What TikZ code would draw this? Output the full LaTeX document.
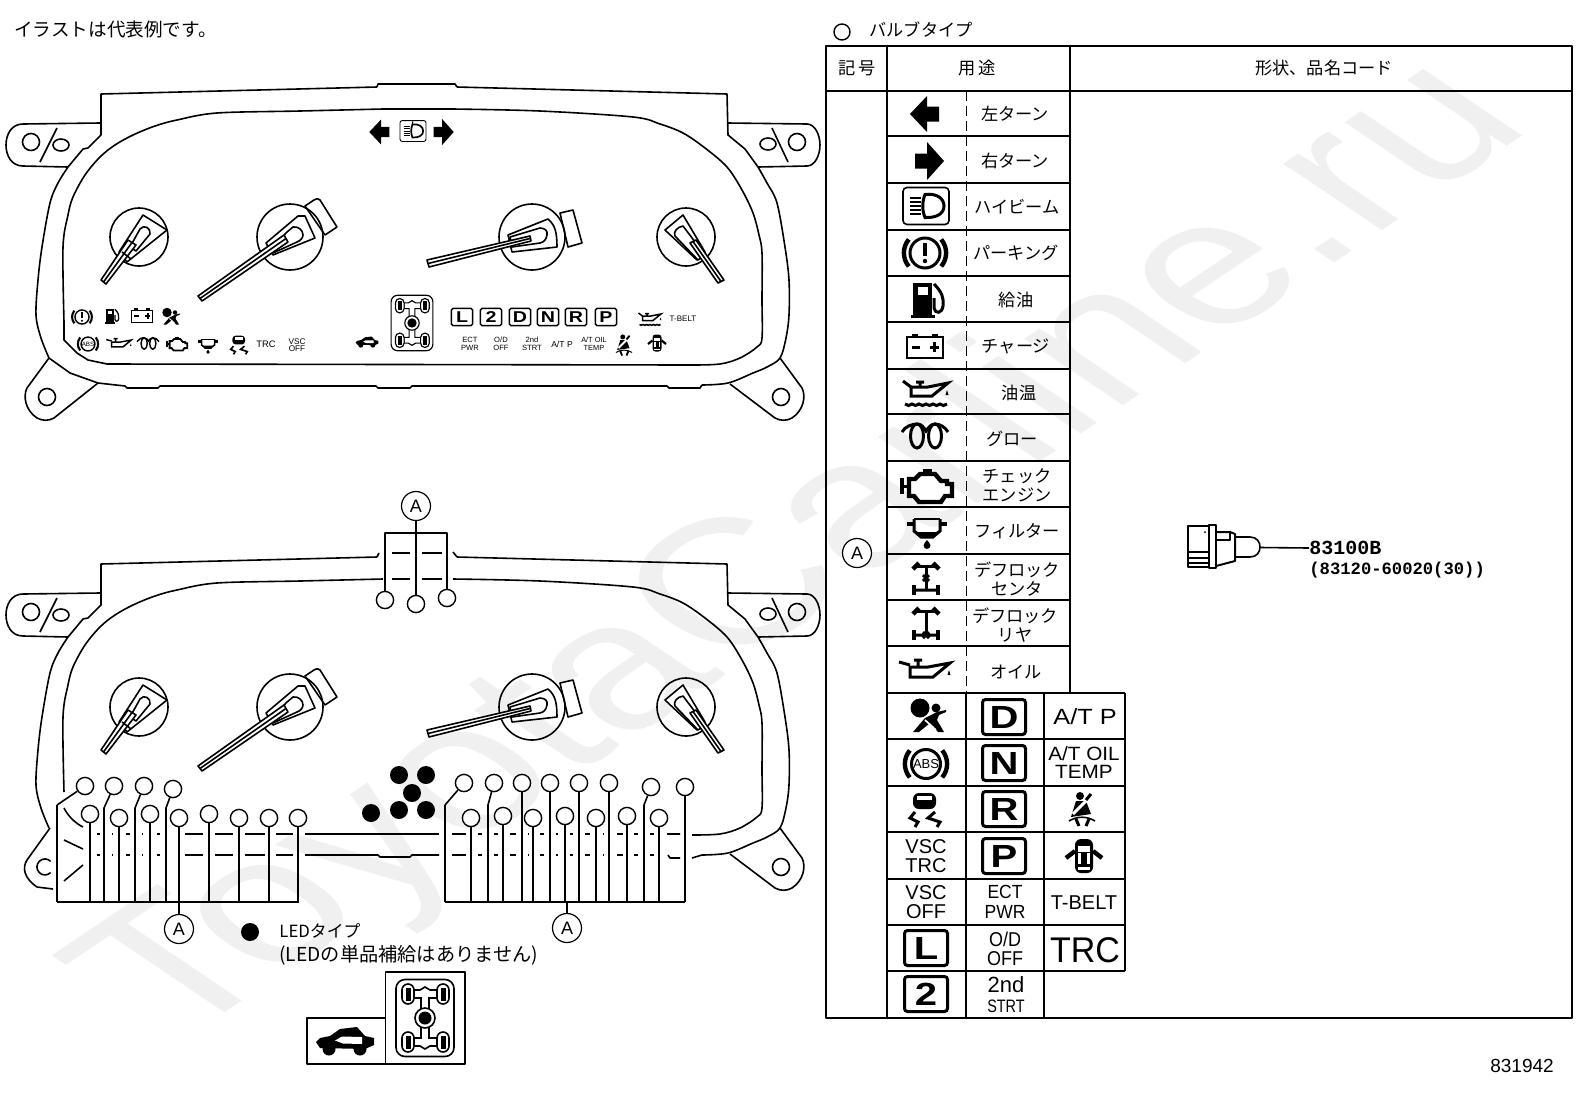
\documentclass[tikz,border=0pt]{standalone}
\usepackage{fontspec}
\setmainfont{Liberation Sans}
\newfontfamily\cjk{Noto Sans CJK JP}
\newfontfamily\monof{Liberation Mono}
\newcommand\fs[2]{\fontsize{#1}{#2}\selectfont}
\tikzset{
 base/.style={line width=0.8pt,line join=round},
 lbl/.style={inner sep=0pt,align=center},
 jp/.style={inner sep=0pt,align=center,font=\cjk\fs{8.6}{9.4}},
 bulbn/.style={circle,draw,line width=0.7pt,fill=white,minimum size=8.6pt,inner sep=0pt},
 ledn/.style={circle,fill=black,minimum size=9pt,inner sep=0pt},
 refn/.style={circle,draw,line width=0.6pt,fill=white,minimum size=14.5pt,inner sep=0pt,font=\fs{9}{9}},
 il/.style={line width=\icS*0.8pt},
 ith/.style={line width=\icS*1.5pt},
 ithk/.style={line width=\icS*2.2pt},
}
% icon wrapper
\newcommand\ic[4]{\begin{scope}[shift={(#2,#3)},scale=#4]\pgfmathsetmacro\icS{#4}#1\end{scope}}
\newcommand\iconLeft{\fill (-17,0)--(0,-18)--(0,-7.5)--(12,-7.5)--(12,7.5)--(0,7.5)--(0,18)--cycle;}
\newcommand\iconRight{\fill (17,0)--(0,-19)--(0,-7.5)--(-12,-7.5)--(-12,7.5)--(0,7.5)--(0,19)--cycle;}
\newcommand\iconHB{\draw[il,rounded corners=\icS*2pt] (-23,-18.5) rectangle (23,18.5);
 \draw[ith] (-1,-11.5) .. controls (10,-13) and (18,-8) .. (18,0) .. controls (18,8) and (10,12) .. (-1,11.5) .. controls (-4,4) and (-4,-4) .. cycle;
 \foreach \v in {-8,-4,0,4,8}{\draw[il] (-16,\v)--(-5,\v);}}
\newcommand\iconPark{\draw[ith] (0,0) circle[radius=15];
 \draw[ithk] (-16.2,-13.6) arc[start angle=220,end angle=140,radius=21];
 \draw[ithk] (16.2,-13.6) arc[start angle=-40,end angle=40,radius=21];
 \fill (-2,-10) rectangle (2,3);\fill (0,8) circle[radius=2.2];}
\newcommand\iconFuel{\fill (-14,-17) rectangle (5,15);\fill[white] (-9,-13) rectangle (1,-5);
 \fill (-16,15) rectangle (8,18);
 \draw[ith] (7,-16) .. controls (15,-8) and (17,-2) .. (16,6) .. controls (15,14) and (8,14) .. (7,8) -- (7,-2);}
\newcommand\iconBatt{\draw[il] (-18,-10) rectangle (18,11);\fill (-13,-13) rectangle (-7,-10);\fill (7,-13) rectangle (13,-10);
 \draw[ith] (-13,0)--(-5,0) (5,0)--(14,0) (9.5,-5)--(9.5,5);}
\newcommand\iconOilTemp{\draw[ith] (-15,-6)--(2,-6)--(22,-10)--(6,3)--(-15,3)--cycle;
 \draw[ith] (-6,-11)--(-6,-6) (-10,-11)--(-2,-11) (-23,-12)--(-15,-6);
 \fill (21,-3)--(19.5,2)--(22.5,2)--cycle;
 \draw[ith] (-21,11) .. controls (-19,13) and (-16,13) .. (-14,11) .. controls (-12,13) and (-9,13) .. (-7,11) .. controls (-5,13) and (-2,13) .. (0,11) .. controls (2,13) and (5,13) .. (7,11) .. controls (9,13) and (12,13) .. (14,11) .. controls (16,13) and (19,13) .. (21,11);}
\newcommand\iconOil{\draw[ith] (-15,-2)--(3,-2)--(25,-6)--(8,8)--(-15,8)--cycle;
 \draw[ith] (-7,-9)--(-7,-2) (-11,-9)--(-3,-9) (-26,-7)--(-15,-4);
 \fill (24,1)--(22.5,6)--(25.5,6)--cycle;}
\newcommand\iconGlow{\draw[ith] (-8,-1) ellipse[x radius=6.5,y radius=12];\draw[ith] (10,-1) ellipse[x radius=6.5,y radius=12];
 \draw[ith] (-23,-5) .. controls (-20,-11) and (-12,-13) .. (-8,-13) .. controls (-3,-13) and (-1,-9) .. (1,-6) .. controls (3,-9) and (6,-13) .. (10,-13) .. controls (15,-13) and (20,-10) .. (23,-5);}
\newcommand\iconEngine{\draw[ithk] (-18,-7)--(-12,-7)--(-7,-12)--(8,-12)--(14,-5)--(20,-5)--(20,-2)--(25,-2)--(25,10)--(18,10)--(14,16)--(-8,16)--(-13,10)--(-18,10)--cycle;
 \draw[ithk] (-4,-15)--(5,-15) (-25,-8)--(-25,8);\draw[ith] (1,-15)--(1,-12) (-25,0)--(-18,0);}
\newcommand\iconFilter{\draw[il] (-13,-14)--(13,-14);\draw[ith] (-13,-14)--(-13,-2)--(-6,4)--(6,4)--(13,-2)--(13,-14);
 \draw[ithk] (-20,-9)--(-13,-9) (13,-9)--(20,-9);\fill (-13,-3)--(-6,4)--(6,4)--(13,-3)--(9,-1)--(-9,-1)--cycle;
 \fill (0,7) .. controls (-1,9) and (-3.5,10) .. (-3.5,12.5) .. controls (-3.5,17) and (3.5,17) .. (3.5,12.5) .. controls (3.5,10) and (1,9) .. (0,7) -- cycle;}
\newcommand\iconDiffTop{\draw[ith] (-9,-12)--(9,-12) (0,-12)--(0,12);\draw[ithk] (-13,-9)--(-7,-15) (7,-15)--(13,-9);}
\newcommand\iconDiffC{\iconDiffTop\draw[ith] (-3,-3)--(3,3) (-3,3)--(3,-3) (-11,12)--(11,12);\draw[ithk] (-12,7)--(-12,17) (12,7)--(12,17);}
\newcommand\iconDiffR{\iconDiffTop\draw[ith] (-3,9)--(3,15) (-3,15)--(3,9) (-11,12)--(11,12);\draw[ithk] (-12,7)--(-12,17) (12,7)--(12,17);}
\newcommand\iconAirbag{\fill (-8,-9) circle[radius=9.5];\fill (8,-9) circle[radius=4.5];
 \fill (-3,1)--(9,-5)--(18,-7)--(18,-5)--(11,-2)--(9,3)--(16,15)--(10,15)--(2,6)--(-9,15)--(-15,15)--cycle;
 \draw[white,il] (-3,3)--(8,13);}
\newcommand\iconABS[1]{\draw[ith] (0,0) circle[radius=14.5];
 \draw[ithk] (-16.2,-13.6) arc[start angle=220,end angle=140,radius=21];
 \draw[ithk] (16.2,-13.6) arc[start angle=-40,end angle=40,radius=21];
 \node[transform shape,lbl,font=\fs{6.5}{6.5}] (#1) at (0,0) {ABS};}
\newcommand\iconSkid{\fill[rounded corners=\icS*3pt] (-12,-17) rectangle (11,-1);\fill[white] (-8,-14) rectangle (7,-10);
 \draw[ith] (-10,2)--(-15,8)--(-7,12)--(-10,17);\draw[ith] (10,2)--(3,8)--(15,12)--(12,17);}
\newcommand\iconBelt{\fill (-2,-13) circle[radius=4];\fill (-6,-8)--(4,-8)--(9,5)--(-11,8)--cycle;
 \draw[white,ith] (5,-9)--(-9,5);\draw[ith] (9,-15)--(4,-9);
 \draw[il] (-13,12) .. controls (-5,7) and (5,7) .. (13,12);\draw[ith] (-6,10)--(-3,17) (7,10)--(4,17);}
\newcommand\iconDoor{\fill[rounded corners=\icS*3pt] (-9,-17) rectangle (9,17);\fill[white] (-6,-10) rectangle (6,-4);\fill[white] (-6,-3) rectangle (-3,8);\fill[white] (3,-3) rectangle (6,8);\fill[white] (-6,11) rectangle (6,14);
 \draw[ithk] (-9,-5)--(-18,2) (9,-5)--(18,2);}
\newcommand\iconCar{\fill (-29,1)--(-25,-3)--(-15,-5)--(-5,-12)--(12,-14)--(20,-5)--(29,-3)--(29,4)--(20,8)--(-25,7)--cycle;
 \fill (-16,8) circle[radius=6.5];\fill (15,8) circle[radius=6.5];
 \fill[white] (-10,-0.5)--(-3,-4.5)--(17,-4)--(17,3)--(-2,2.5)--cycle;}
\newcommand\iconFWD{\draw[il,rounded corners=\icS*4.5pt] (-29,-38.5) rectangle (29,38.5);
 \draw[il,fill=white] (-11,-28)--(-5,-28)--(0,-31)--(5,-28)--(12,-28)--(12,-20)--(4,-20)--(4,20)--(12,20)--(12,28)--(5,28)--(0,31)--(-5,28)--(-11,28)--(-11,20)--(-4,20)--(-4,-20)--(-11,-20)--cycle;
 \foreach \a/\b in {-17/-24,18/-24,-17/24,18/24}{
  \draw[il,fill=white,rounded corners=\icS*3pt] (\a-6,\b-10) rectangle (\a+6,\b+10);
  \fill (\a-2.5,\b-6.5) rectangle (\a+2.5,\b+6.5);}
 \draw[il,fill=white] (0,0) circle[radius=10];\fill (0,0) circle[radius=6.5];}
\newcommand\lampbox[5]{\begin{scope}[shift={(#2,#3)},scale=#4]\pgfmathsetmacro\icS{#4}
 \draw[ith,rounded corners=\icS*1.5pt] (-21.5,-17.5) rectangle (21.5,17.5);
 \node[transform shape,lbl,xscale=1.25,font=\bfseries\fs{16}{16}] (#1) at (0,0) {#5};\end{scope}}
% cluster parts
\newcommand\outerLeft{\draw[base] plot[smooth,tension=.55] coordinates {(49,358) (41,338) (36,315) (38,280) (42,247) (50,203) (58,183) (68,167)} -- (83,149) -- (88,148) -- (101,135) -- (101,94) -- (377,87);}
\newcommand\outerRight{\draw[base] (457,87) -- (727,94) -- (728,135) -- (745,149) -- (758,167) plot[smooth,tension=.55] coordinates {(758,167) (767,183) (777,203) (785,247) (789,280) (789,315) (786,338) (780,358) (767,367) (753,373) (728,383) (702,385)};}
\newcommand\innerLeft{\draw[base] plot[smooth,tension=.55] coordinates {(64,322) (63,247) (68,215) (73,197) (85,175) (100,157) (115,145) (133,135) (155,126) (177,120) (217,113) (300,111) (383,109)};}
\newcommand\innerRight{\draw[base] plot[smooth,tension=.55] coordinates {(453,109) (540,111) (633,117) (660,124) (683,133) (705,148) (727,167) (742,190) (753,213) (759,235) (762,253) (762,300) (762,338) (757,347) (740,358) (720,364) (692,365)};}
\newcommand\earsCommon{
 \draw[base] (100,123) -- (23,124) .. controls (11,124) and (6,135) .. (6,145) .. controls (6,155) and (11,166) .. (23,166) -- (68,167);
 \draw[base] (31,142) circle[radius=8.5];\draw[base] (61,145) ellipse[x radius=8,y radius=6];\draw[base] (57,128)--(40,162);
 \draw[base] (728,123) -- (807,124) .. controls (815,124) and (820,135) .. (820,145) .. controls (820,155) and (815,166) .. (807,166) -- (758,167);
 \draw[base] (797,142) circle[radius=8.5];\draw[base] (768,144) ellipse[x radius=8,y radius=6];\draw[base] (772,128)--(788,162);
 \draw[base] (780,358) -- (802,388) .. controls (806,396) and (804,410) .. (792,418) .. controls (787,421) and (780,421) .. (775,418) -- (730,384);
 \draw[base] (781,397) circle[radius=8.5];}
\newcommand\gauges{
 \draw[base] (139,237) circle[radius=29];
 \draw[base,fill=white] (143,215)--(167,230)--(127,262)--(119,252)--cycle;
 \draw[base,fill=white] (130,247)--(140,229) .. controls (144,224) and (151,228) .. (150,234) -- (136,251)--cycle;
 \draw[base,fill=white] (101,280)--(128,240)--(136,245)--(106,284)--cycle;
 \draw[base] (103.5,282)--(132,242.5) (122,252)--(131,259);
 \draw[base,fill=white] (305,206)--(314,200) .. controls (317,198) and (319,199) .. (320,200) -- (337,227)--(325,235)--cycle;
 \draw[base] (290,237) circle[radius=33];
 \draw[base,fill=white] (298,216)--(305,216)--(315,238)--(273,255)--(266,243)--cycle;
 \draw[base,fill=white] (270,250)--(287,232)--(293,227) .. controls (298,226) and (303,230) .. (303,235) .. controls (303,238) and (300,241) .. (297,242) -- (273,253)--cycle;
 \draw[base,fill=white] (198,296)--(202,301)--(288,242)--(284,235)--cycle;
 \draw[base] (200,298.5)--(286,238.5);
 \draw[base,fill=white] (560,213)--(573,210)--(582,243)--(568,247)--cycle;
 \draw[base] (532,237) circle[radius=33];
 \draw[base,fill=white] (548,219) .. controls (555,225) and (557,232) .. (557,247) -- (512,252)--(508,235)--cycle;
 \draw[base,fill=white] (510,237)--(540,228) .. controls (545,228) and (548,231) .. (547,235) .. controls (546,240) and (544,242) .. (540,243) -- (512,247)--cycle;
 \draw[base,fill=white] (427,260)--(429,267)--(531,241)--(530,236)--cycle;
 \draw[base] (428,263.5)--(530,238.5);
 \draw[base] (686,237) circle[radius=29];
 \draw[base,fill=white] (665,230)--(683,215)--(705,252)--(697,260)--cycle;
 \draw[base,fill=white] (675,236) .. controls (673,232) and (677,227) .. (683,226) -- (705,255)--(698,260)--cycle;
 \draw[base,fill=white] (718,283)--(690,243)--(696,240)--(724,280)--cycle;
 \draw[base] (721,281.5)--(693,241.5);}
\begin{document}
\begin{tikzpicture}[x=0.5pt,y=-0.5pt]
\useasboundingbox (0,0) rectangle (1592,1099);
% watermark
\node[transform shape,yscale=.676,rotate=45,anchor=base west,inner sep=0pt,text=black!6,font=\fs{132}{132}] (wm) at (176,1046) {ToyotaCarline.ru};
\node[anchor=west,jp,font=\cjk\fs{9.3}{10}] (tillus) at (14,29) {イラストは代表例です。};
% ---------- upper cluster
\outerLeft \outerRight \innerLeft \innerRight \earsCommon \gauges
\draw[base] (377,87)--(378,84)--(455,84)--(457,87);
\draw[base] (383,109)--(453,109);
\draw[base] (64,322)--(64,340)--(77,353)--(88,360)--(107,364)--(692,365);
\draw[base] (702,385)--(700,388)--(669,388)--(667,386)--(412,386)--(410,388)--(378,388)--(376,386)--(160,386)--(158,388)--(127,388)--(125,386)--(98,383)--(70,373)--(49,358);
\draw[base] (49,358) -- (27,388) .. controls (23,396) and (25,410) .. (37,418) .. controls (42,421) and (49,421) .. (54,418) -- (98,383);
\draw[base] (47,397) circle[radius=8.5];
% upper icons
\ic{\iconLeft}{381}{132}{.69}\ic{\iconRight}{442}{132}{.69}\ic{\iconHB}{413}{131}{.565}
\ic{\iconPark}{82}{317}{.47}\ic{\iconFuel}{112}{316}{.42}\ic{\iconBatt}{142}{316}{.6}\ic{\iconAirbag}{171}{317}{.5}
\ic{\iconABS{absU}}{88}{344}{.48}\ic{\iconOil}{119}{343}{.49}\ic{\iconGlow}{148}{344}{.48}\ic{\iconEngine}{177}{344}{.41}\ic{\iconFilter}{208}{346}{.5}\ic{\iconSkid}{239}{345}{.55}
\node[lbl,font=\fs{4.7}{4.7}] (uTRC) at (266,344) {TRC};
\node[lbl,font=\fs{4.1}{3.8}] (uVSC) at (297,345) {VSC\\OFF};
\ic{\iconCar}{367}{342}{.39}\ic{\iconFWD}{412}{323}{.72}
\lampbox{uL}{462}{317}{.49}{L}\lampbox{u2}{491}{317}{.49}{2}\lampbox{uD}{520}{317}{.49}{D}\lampbox{uN}{548}{317}{.49}{N}\lampbox{uR}{576}{317}{.49}{R}\lampbox{uP}{606}{317}{.49}{P}
\ic{\iconOilTemp}{650}{319}{.5}
\node[lbl,font=\fs{4}{4}] (uTB) at (683,319) {T-BELT};
\node[lbl,font=\fs{3.8}{3.8}] (uECT) at (470,344) {ECT\\PWR};
\node[lbl,font=\fs{3.8}{3.8}] (uOD) at (501,344) {O/D\\OFF};
\node[lbl,font=\fs{3.8}{3.8}] (u2nd) at (532,344) {2nd\\STRT};
\node[lbl,font=\fs{4.3}{4.3}] (uATP) at (562,344) {A/T P};
\node[lbl,font=\fs{3.7}{3.7}] (uATO) at (594,344) {A/T OIL\\TEMP};
\ic{\iconBelt}{624}{345}{.62}\ic{\iconDoor}{657}{343}{.5}
% ---------- lower cluster
\begin{scope}[shift={(0,470)}]
\outerLeft \outerRight \innerLeft \innerRight \earsCommon \gauges
\end{scope}
\draw[base] (377,557)--(379,553) (453,552)--(457,557);
% top box
\node[refn] (Atop) at (416,506) {A};
\node[bulbn] (t1) at (385,600) {};\node[bulbn] (t2) at (416,604) {};\node[bulbn] (t3) at (447,598) {};
\coordinate (tl) at (385,533);\coordinate (tr) at (447,533);
\draw[base] (t1)--(tl)--(tr)--(t3);
\draw[base] (Atop)--(t2);
\foreach \a/\b in {392/410,422/442}{\draw[base] (\a,553)--(\b,553) (\a,579)--(\b,579);}
% bottom lines
\draw[base] (305,834)--(439,834);
\draw[base] (305,855)--(378,855)--(380,857)--(410,857)--(412,855)--(439,855);
% left cut-away box
\coordinate (lbTL) at (57,805);\coordinate (lbBL) at (57,902);\coordinate (lbBR) at (299,902);
\draw[base] (lbBL)--(lbTL) (lbBL)--(lbBR);
\foreach \n/\x/\y/\mx in {1/114/786/104,2/144/786/135,3/173/789/166}{
 \node[bulbn] (lt\n) at (\x,\y) {};
 \coordinate (ltm\n) at (\mx,808);\coordinate (lte\n) at (\mx,902);
 \draw[base] (lt\n)--(ltm\n)--(lte\n);}
\node[bulbn] (lt0) at (85,786) {};\draw[base] (lt0)--(lbTL);
\foreach \n/\x/\y in {1/90/814,2/119/818,3/150/814,5/209/814,6/239/818,7/269/818,8/298/818}{
 \node[bulbn] (ls\n) at (\x,\y) {};
 \coordinate (lse\n) at (\x,902);
 \draw[base] (ls\n)--(lse\n);}
\node[refn] (Aleft) at (179,929) {A};\node[bulbn] (ls4) at (179,818) {};
\draw[base] (ls4)--(Aleft);
\foreach \a/\b in {97/100,112/113,126/130,142/143,157/160,185/203,215/233,245/265,276/293}{\draw[base] (\a,834)--(\b,834) (\a,855)--(\b,855);}
\draw[base] (64,808) .. controls (68,816) and (75,823) .. (83,827);
\draw[base] (64,840)--(83,849) (64,881)--(83,865);
\draw[base] (50,828) -- (27,860) .. controls (22,868) and (24,878) .. (37,887) -- (53,889);
\draw[base] (50.6,872.6) arc[start angle=45,end angle=315,radius=8];
% right cut-away box
\coordinate (rbTL) at (445,805);\coordinate (rbBL) at (445,902);\coordinate (rbBR) at (685,902);
\draw[base] (rbBL)--(rbTL) (rbBL)--(rbBR);
\node[bulbn] (rt0) at (464,783) {};\draw[base] (rt0)--(rbTL);
\foreach \n/\x/\y/\mx in {1/494/783/488,6/651/787/644}{
 \node[bulbn] (rt\n) at (\x,\y) {};
 \coordinate (rtm\n) at (\mx,805);\coordinate (rte\n) at (\mx,902);
 \draw[base] (rt\n)--(rtm\n)--(rte\n);}
\foreach \n/\x/\y in {2/522/783,3/550/783,4/579/783,5/609/783,7/685/787}{
 \node[bulbn] (rt\n) at (\x,\y) {};
 \coordinate (rte\n) at (\x,902);
 \draw[base] (rt\n)--(rte\n);}
\foreach \n/\x/\y in {1/471/818,2/503/816,3/533/818,4/565/816,5/596/818,6/627/816,7/659/818}{
 \node[bulbn] (rs\n) at (\x,\y) {};
 \coordinate (rse\n) at (\x,902);
 \draw[base] (rs\n)--(rse\n);}
\node[refn] (Aright) at (567,928) {A};\coordinate (rsA) at (567,902);\draw[base] (rsA)--(Aright);
\foreach \a/\b in {452/466,478/482,494/498,510/516,528/529,540/544,556/558,570/573,585/590,603/604,617/623,634/638,650/654}{\draw[base] (\a,834)--(\b,834) (\a,855)--(\b,855);}
\draw[base] (667,834)--(680,834) (668,855)--(670,858)--(680,858) (692,858)--(702,855);
% LEDs
\foreach \n/\x/\y in {1/399/775,2/426/775,3/412/793,4/371/813,5/399/810,6/426/810}{\node[ledn] (led\n) at (\x,\y) {};}
\node[ledn] (ledkey) at (250,932) {};
\node[anchor=west,jp,font=\cjk\fs{8.4}{9}] (ledA) at (279,931) {LEDタイプ};
\node[anchor=west,jp,font=\cjk\fs{9.6}{10}] (ledB) at (279,955) {(LEDの単品補給はありません)};
% legend boxes
\draw[base] (307,1018) rectangle (385.5,1064);\draw[base] (385.5,972) rectangle (465,1064);
\ic{\iconCar}{345}{1041}{1}\ic{\iconFWD}{425}{1018}{1}
% ---------- table
\node[bulbn,minimum size=8pt,fill=none] (keyb) at (842,32) {};
\node[anchor=west,jp] (keybt) at (869,30) {バルブタイプ};
\draw[base] (826,46) rectangle (1572,1018);
\draw[base] (826,91)--(1572,91);
\draw[base] (887,46)--(887,1018) (1070,46)--(1070,693);
\draw[base,line width=0.5pt,dash pattern=on 5pt off 2.5pt] (966,91)--(966,693);
\foreach \y in {136,183,230,276,322,369,414,461,507,554,600,646}{\draw[base] (887,\y)--(1070,\y);}
\foreach \y in {693,739,786,832,879,925,971}{\draw[base] (887,\y)--(1125,\y);}
\draw[base] (966,693)--(966,1018) (1044,693)--(1044,1018) (1125,693)--(1125,971);
\node[jp] (h1) at (857,68) {記\,号};
\node[jp] (h2) at (977,68) {用\,途};
\node[jp] (h3) at (1324,68) {形状、品名コード};
\node[refn] (Atab) at (857,553) {A};
\node[jp] (r1) at (1015,114) {左ターン};
\node[jp] (r2) at (1015,161) {右ターン};
\node[jp] (r3) at (1017,207) {ハイビーム};
\node[jp] (r4) at (1016,253) {パーキング};
\node[jp] (r5) at (1016,300) {給油};
\node[jp] (r6) at (1016,346) {チャージ};
\node[jp] (r7) at (1019,393) {油温};
\node[jp] (r8) at (1012,439) {グロー};
\node[jp] (r9) at (1017,485) {チェック\\エンジン};
\node[jp] (r10) at (1017,531) {フィルター};
\node[jp] (r11) at (1017,579) {デフロック\\センタ};
\node[jp] (r12) at (1015,625) {デフロック\\リヤ};
\node[jp] (r13) at (1016,672) {オイル};
\ic{\iconLeft}{927}{114}{1}\ic{\iconRight}{927}{161}{1}\ic{\iconHB}{926}{206}{1}\ic{\iconPark}{925}{253}{1}
\ic{\iconFuel}{927}{300}{1}\ic{\iconBatt}{925}{347}{1}\ic{\iconOilTemp}{926}{393}{1}\ic{\iconGlow}{925}{437}{1}
\ic{\iconEngine}{927}{486}{1}\ic{\iconFilter}{927}{533}{1}\ic{\iconDiffC}{926}{578}{1}\ic{\iconDiffR}{926}{623}{1}\ic{\iconOil}{925}{669}{1}
\ic{\iconAirbag}{928}{717}{1}\ic{\iconABS{absT}}{926}{764}{1}\ic{\iconSkid}{925}{810}{1}
\node[lbl,font=\fs{10}{9.8}] (c1) at (926,856) {VSC\\TRC};
\node[lbl,font=\fs{10}{9.8}] (c2) at (926,902) {VSC\\OFF};
\lampbox{tL}{926}{948}{1}{L}\lampbox{t2}{926}{994}{1}{2}
\lampbox{tD}{1004}{717}{1}{D}\lampbox{tN}{1004}{763}{1}{N}\lampbox{tR}{1004}{809}{1}{R}\lampbox{tP}{1004}{856}{1}{P}
\node[lbl,font=\fs{9.5}{9.8},transform shape,xscale=.92] (c3) at (1005,902) {ECT\\PWR};
\node[lbl,font=\fs{10}{9.8},transform shape,xscale=.9] (c4) at (1005,949) {O/D\\OFF};
\node[lbl,font=\fs{11}{11}] (c5a) at (1006,985) {2nd};
\node[lbl,font=\fs{9}{9},transform shape,xscale=.8] (c5b) at (1006,1006) {STRT};
\node[lbl,font=\fs{11}{11},transform shape,xscale=1.15] (c6) at (1085,717) {A/T P};
\node[lbl,font=\fs{9.6}{9},transform shape,xscale=1.08] (c7) at (1084,763) {A/T OIL\\TEMP};
\ic{\iconBelt}{1082}{809}{1}\ic{\iconDoor}{1084}{856}{1}
\node[lbl,font=\fs{10}{10}] (c8) at (1084,903) {T-BELT};
\node[lbl,font=\fs{17}{17},transform shape,yscale=1.05] (c9) at (1085,950) {TRC};
% bulb
\draw[base] (1188,526) rectangle (1209,567);
\draw[base,line width=1pt] (1209,525) rectangle (1216,568);
\draw[base,line width=1pt] (1216,532)--(1230,532)--(1235,534)--(1235,561)--(1216,566);
\draw[base] (1216,540)--(1230,540)--(1230,532);
\draw[base,line width=1pt] (1188,552)--(1209,552);
\draw[base] (1188,558)--(1209,558) (1188,563)--(1209,563);
\fill (1205,532) circle[radius=1];
\draw[base] (1235,537)--(1250,537) .. controls (1257,537) and (1260,542) .. (1260,547) .. controls (1260,552) and (1257,557) .. (1250,557)--(1235,557);
\coordinate (btip) at (1260,547.5);
\node[anchor=west,inner sep=0pt,font=\monof\bfseries\fs{10}{10}] (pn1) at (1309,548) {83100B};
\node[anchor=west,inner sep=0pt,font=\monof\bfseries\fs{8.6}{9}] (pn2) at (1309,570) {(83120-60020(30))};
\draw[base] (btip)--(pn1.west);
\node[inner sep=0pt,font=\fs{9.5}{10}] (docno) at (1522,1066) {831942};
\end{tikzpicture}
\end{document}
